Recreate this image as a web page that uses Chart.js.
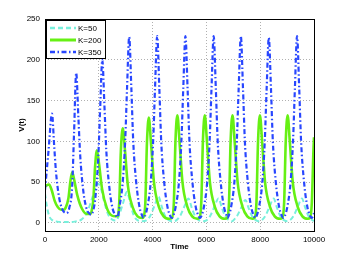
<!DOCTYPE html>
<html>
<head>
<meta charset="utf-8">
<script src="https://cdn.jsdelivr.net/npm/chart.js@4/dist/chart.umd.min.js"></script>
<style>
  body { margin: 0; background: #fff; }
</style>
</head>
<body>
<canvas id="plot" width="346" height="260"></canvas>
<script>
// K=50 series (time, V)
const k50Time = [0, 60, 150, 280, 450, 800, 1100, 1350, 1550, 1750, 1900, 1980, 2080, 2200, 2350, 2500,
  2650, 2750, 2900, 3050, 3170, 3300, 3450, 3600,
  3770, 3920, 4070, 4220, 4340, 4470, 4620, 4750,
  4880, 5030, 5180, 5330, 5450, 5580, 5730, 5850,
  6000, 6150, 6300, 6450, 6570, 6700, 6850, 6950,
  7000, 7150, 7300, 7450, 7570, 7700, 7850, 7950,
  8050, 8200, 8350, 8500, 8620, 8750, 8900, 9000,
  9100, 9250, 9400, 9550, 9670, 9800, 9950, 10000];
const k50V = [36, 22, 9, 3, 1.5, 1, 1.5, 4, 12, 30, 46, 48, 42, 26, 10, 4,
  3, 9, 24, 38, 24, 9, 3, 2,
  3, 9, 21, 32, 20, 8, 3, 2,
  3, 9, 20, 30, 19, 8, 3, 2,
  3, 9, 20, 30, 19, 8, 3, 2,
  3, 9, 19, 28, 18, 8, 3, 2,
  3, 9, 20, 30, 19, 8, 3, 2,
  3, 9, 20, 30, 19, 8, 3, 2.5];

// K=200 series
const k200Time = [0, 150, 250, 360, 480, 600, 700,
  760, 870, 940, 1010, 1090, 1200, 1380, 1560, 1680,
  1730, 1800, 1860, 1930, 2010, 2120, 2300, 2480, 2620,
  2690, 2760, 2820, 2890, 2970, 3080, 3260, 3440, 3620,
  3660, 3730, 3790, 3860, 3940, 4050, 4230, 4410, 4610,
  4720, 4790, 4850, 4920, 5000, 5110, 5290, 5470, 5660,
  5740, 5810, 5870, 5940, 6020, 6130, 6310, 6490, 6690,
  6770, 6840, 6900, 6970, 7050, 7160, 7340, 7520, 7710,
  7790, 7860, 7920, 7990, 8070, 8180, 8360, 8540, 8740,
  8820, 8890, 8950, 9020, 9100, 9210, 9390, 9570, 9770,
  9850, 9920, 9980, 10000];
const k200V = [45, 47, 40, 27, 19, 16, 16,
  18, 30, 50, 62, 52, 34, 17, 11, 11,
  14, 30, 68, 89, 72, 42, 18, 9, 8,
  8, 25, 88, 116, 90, 46, 19, 8, 6,
  7, 25, 98, 129, 98, 50, 20, 8, 5,
  6, 25, 100, 132, 100, 50, 20, 8, 5,
  6, 25, 100, 132, 100, 50, 20, 8, 5,
  6, 25, 100, 132, 100, 50, 20, 8, 5,
  6, 25, 100, 132, 100, 50, 20, 8, 5,
  6, 25, 100, 132, 100, 50, 20, 8, 5,
  6, 25, 90, 105];

// K=350 series
const k350Time = [0, 130, 260, 340, 410, 520, 640, 790,
  900, 1010, 1080, 1160, 1240, 1310, 1420, 1540, 1660, 1720,
  1790, 1870, 1980, 2050, 2130, 2210, 2280, 2390, 2510, 2630, 2700,
  2770, 2890, 2980, 3050, 3130, 3210, 3280, 3390, 3510, 3610, 3660,
  3710, 3810, 3930, 4020, 4090, 4170, 4250, 4320, 4430, 4550, 4650, 4705,
  4760, 4860, 4980, 5070, 5140, 5220, 5300, 5370, 5480, 5600, 5700, 5755,
  5810, 5910, 6030, 6120, 6190, 6270, 6350, 6420, 6530, 6650, 6750, 6780,
  6820, 6920, 7040, 7130, 7200, 7280, 7360, 7430, 7540, 7660, 7760, 7810,
  7860, 7960, 8080, 8170, 8240, 8320, 8400, 8470, 8580, 8700, 8800, 8850,
  8910, 9010, 9130, 9220, 9290, 9370, 9450, 9520, 9630, 9750, 9850, 9900, 9960, 10000];
const k350V = [40, 88, 134, 95, 62, 32, 17, 12,
  18, 45, 110, 184, 130, 82, 40, 18, 11, 10,
  15, 30, 80, 140, 200, 143, 88, 44, 18, 9, 7,
  20, 50, 100, 165, 228, 165, 100, 50, 20, 9, 6,
  8, 20, 50, 100, 165, 229, 165, 100, 50, 20, 9, 6,
  8, 20, 50, 100, 165, 229, 165, 100, 50, 20, 9, 6,
  8, 20, 50, 100, 165, 229, 165, 100, 50, 20, 9, 6,
  8, 20, 50, 100, 165, 229, 165, 100, 50, 20, 9, 6,
  8, 20, 50, 100, 165, 227, 165, 100, 50, 20, 9, 6,
  8, 20, 50, 100, 165, 229, 165, 100, 50, 20, 9, 6, 8, 12];

const seriesLabels = ['K=50', 'K=200', 'K=350'];
const xTicks = [0, 2000, 4000, 6000, 8000, 10000];
const yTicks = [0, 50, 100, 150, 200, 250];

const colors = ['rgb(120,240,220)', 'rgb(102,240,20)', 'rgb(40,70,255)'];
const dashes = [[5, 3], [], [5, 2.5, 1.5, 2.5]];
const widths = [2, 2.6, 2.2];

function toPoints(ts, vs) {
  return ts.map((t, i) => ({x: t, y: vs[i]}));
}

const series = [toPoints(k50Time, k50V), toPoints(k200Time, k200V), toPoints(k350Time, k350V)];

// legend box + frame drawn in the chart area
const framePlugin = {
  id: 'frame',
  afterDraw(chart) {
    const ctx = chart.ctx;
    const a = chart.chartArea;
    ctx.save();
    ctx.strokeStyle = '#000';
    ctx.lineWidth = 1;
    ctx.strokeRect(a.left + 0.5, a.top + 0.5, a.right - a.left, a.bottom - a.top);

    // legend
    const lx = a.left + 1, ly = a.top + 1, lw = 59, lh = 38;
    ctx.fillStyle = '#fff';
    ctx.fillRect(lx, ly, lw, lh);
    ctx.strokeRect(lx + 0.5, ly + 0.5, lw, lh);
    ctx.font = '8px "Liberation Sans", Arial, sans-serif';
    ctx.textBaseline = 'middle';
    for (let i = 0; i < seriesLabels.length; i++) {
      const y = ly + 8 + i * 12;
      ctx.beginPath();
      ctx.setLineDash(dashes[i]);
      ctx.strokeStyle = colors[i];
      ctx.lineWidth = widths[i] + 0.4;
      ctx.moveTo(lx + 4, y);
      ctx.lineTo(lx + 30, y);
      ctx.stroke();
      ctx.setLineDash([]);
      ctx.fillStyle = '#000';
      ctx.fillText(seriesLabels[i], lx + 32, y + 0.5);
    }
    ctx.restore();
  }
};

const data = {
  datasets: seriesLabels.map((label, i) => ({
    label: label,
    data: series[i],
    borderColor: colors[i],
    borderDash: dashes[i],
    borderWidth: widths[i],
    pointRadius: 0,
    fill: false,
    cubicInterpolationMode: 'monotone',
    order: 2 - i
  }))
};

const config = {
  type: 'line',
  data: data,
  plugins: [framePlugin],
  options: {
    responsive: false,
    animation: false,
    layout: { padding: { top: 19, right: 32, left: 0, bottom: 0 } },
    plugins: { legend: { display: false }, tooltip: { enabled: false } },
    scales: {
      x: {
        type: 'linear',
        min: 0,
        max: 10000,
        afterBuildTicks: s => { s.ticks = xTicks.map(v => ({value: v})); },
        afterFit: s => { s.height = 29; },
        ticks: { color: '#000', font: { size: 8, family: '"Liberation Sans", Arial' }, padding: 4, maxRotation: 0, callback: v => String(v) },
        grid: { color: '#b0b0b0', drawTicks: false, lineWidth: 1 },
        border: { display: false, dash: [1, 2] },
        title: { display: true, text: 'Time', color: '#000', font: { size: 8, weight: 'bold', family: '"Liberation Sans", Arial' }, padding: { top: 0, bottom: 8 } }
      },
      y: {
        min: -10,
        max: 250,
        afterBuildTicks: s => { s.ticks = yTicks.map(v => ({value: v})); },
        afterFit: s => { s.width = 45; },
        ticks: { color: '#000', font: { size: 8, family: '"Liberation Sans", Arial' }, padding: 5, callback: v => String(v) },
        grid: { color: '#b0b0b0', drawTicks: false, lineWidth: 1 },
        border: { display: false, dash: [1, 2] },
        title: { display: true, text: 'V(t)', color: '#000', font: { size: 8, weight: 'bold', family: '"Liberation Sans", Arial' }, padding: { top: 17, bottom: 0 } }
      }
    }
  }
};

let ctx = document.getElementById("plot").getContext("2d");
let chart = new Chart(ctx, config);
</script>
</body>
</html>
